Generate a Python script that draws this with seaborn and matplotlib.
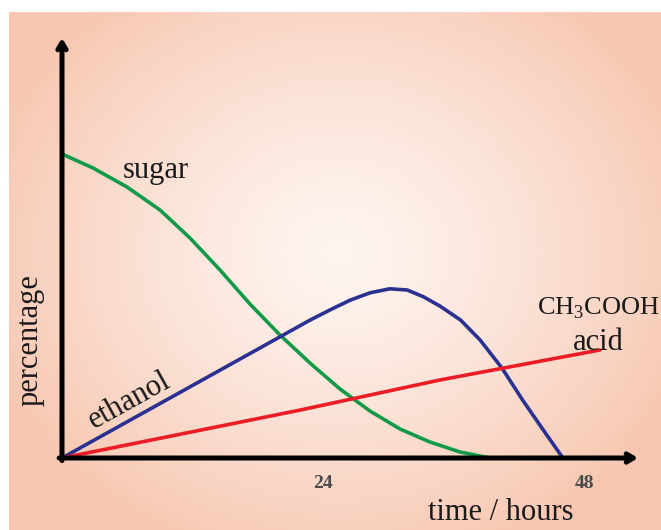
import matplotlib.pyplot as plt
import seaborn as sns
import numpy as np
import pandas as pd

# valori (tempo in ore, percentuale in unità arbitrarie)
sugar_t = [0, 2.85, 5.97, 9.0, 11.75, 14.51, 17.26, 20.02, 22.77, 25.53, 28.28,
           31.04, 33.79, 36.55, 39.3]
sugar_p = [76.0, 72.5, 67.75, 62.0, 55.0, 47.0, 38.5, 30.75, 23.75, 17.25, 11.75,
           7.25, 4.0, 1.5, 0]

ethanol_t = [0, 22.8, 24.6, 26.5, 28.3, 30.1, 31.7, 33.2, 34.7, 36.6, 38.4, 40.4, 42.3, 44.2, 46.0]
ethanol_p = [0, 34.5, 37.0, 39.5, 41.3, 42.3, 42.0, 40.3, 38.0, 34.5, 29.5, 22.5, 14.5, 7.0, 0]

acid_t = [0, 21.9, 34.7, 49.4]
acid_p = [0, 12.0, 19.5, 27.0]

tick_ore = [24, 48]
tick_lab = ['24', '48']

df = pd.concat([
    pd.DataFrame({'t': sugar_t, 'p': sugar_p, 'serie': 'sugar'}),
    pd.DataFrame({'t': ethanol_t, 'p': ethanol_p, 'serie': 'ethanol'}),
    pd.DataFrame({'t': acid_t, 'p': acid_p, 'serie': 'acid'}),
])
colori = {'sugar': '#129a48', 'ethanol': '#2b3190', 'acid': '#ec1c24'}

sns.set_style('white')
plt.rcParams['font.family'] = ['Liberation Serif', 'DejaVu Serif']
plt.rcParams['mathtext.fontset'] = 'custom'
plt.rcParams['mathtext.rm'] = 'Liberation Serif'

fig = plt.figure(figsize=(6.61, 5.30), dpi=100, facecolor='white')

# sfondo salmone con sfumatura radiale
bg = fig.add_axes([9 / 661, 0, 652 / 661, 518 / 530])
yy, xx = np.mgrid[0:518, 0:652]
r = np.clip(np.sqrt(((xx - 330) / 380) ** 2 + ((yy - 240) / 330) ** 2), 0, 1)
edge = np.array([247, 198, 176]) / 255
centre = np.array([254, 245, 240]) / 255
bg.imshow(centre + (edge - centre) * (r ** 1.3)[..., None], aspect='auto')
bg.axis('off')

ax = fig.add_axes([62 / 661, 72 / 530, 576 / 661, 420 / 530])
ax.patch.set_alpha(0)
sns.lineplot(data=df, x='t', y='p', hue='serie', palette=colori, sort=False,
             estimator=None, linewidth=2.6, legend=False, ax=ax)
for ln in ax.lines:
    ln.set_solid_joinstyle('round')
    ln.set_solid_capstyle('round')
ax.set_xlim(0, 52.9)
ax.set_ylim(0, 105)
sns.despine(ax=ax, left=True, bottom=True)
ax.set_xlabel('')
ax.set_ylabel('')
ax.set_yticks([])
ax.set_xticks(tick_ore, tick_lab)
ax.tick_params(axis='x', length=0, pad=12, labelsize=14, labelcolor='#4a4a4a')
for lab in ax.get_xticklabels():
    lab.set_fontweight('bold')

# assi con freccia
freccia = dict(arrowstyle='->, head_length=0.5, head_width=0.3', lw=3.6, color='black',
               shrinkA=0, shrinkB=0)
ax.annotate('', xy=(1, 0), xytext=(-0.005, 0), xycoords='axes fraction', arrowprops=freccia)
ax.annotate('', xy=(0, 1), xytext=(0, -0.006), xycoords='axes fraction', arrowprops=freccia)

testo = dict(color='#1a1a1a')
ax.text(5.6, 70, 'sugar', fontsize=22, ha='left', va='baseline', **testo)
ax.text(-2.95, 29.5, 'percentage', fontsize=22, rotation=90, ha='center', va='center', **testo)
ax.text(6.2, 14.4, 'ethanol', fontsize=22, rotation=29, rotation_mode='anchor',
        ha='center', va='center', **testo)
ax.text(49.3, 35.8, 'CH$_3$COOH', fontsize=19, ha='center', va='baseline', clip_on=False, **testo)
ax.text(49.3, 27, 'acid', fontsize=22, ha='center', va='baseline', **testo)
ax.text(33.6, -15.5, 'time / hours', fontsize=22, ha='left', va='baseline', **testo)

plt.savefig('out.png', dpi=100, facecolor='white')
